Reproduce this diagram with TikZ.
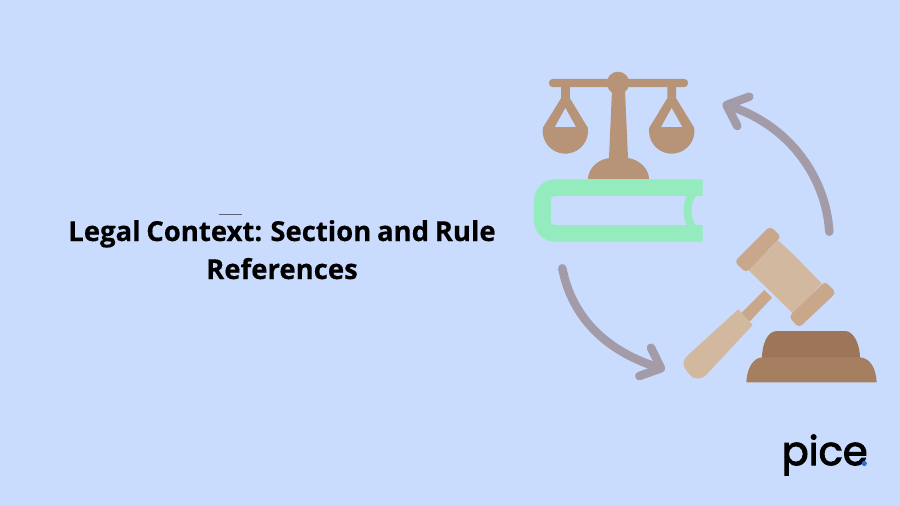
\documentclass[tikz,border=0pt]{standalone}
\usepackage{fontspec}
\setmainfont[WordSpace=0.8,BoldFeatures={FakeBold=0.4}]{Open Sans}
\newfontfamily\logofont[FakeBold=2.6]{Poppins}
\definecolor{bgc}{HTML}{CADCFE}
\definecolor{scalec}{HTML}{B79478}
\definecolor{bookc}{HTML}{94EBBE}
\definecolor{arrowc}{HTML}{A39BA8}
\definecolor{gripc}{HTML}{D3B8A0}
\definecolor{bandc}{HTML}{C8A78B}
\definecolor{basetop}{HTML}{9E7559}
\definecolor{basebot}{HTML}{A67F60}
\definecolor{dotc}{HTML}{2F6BE8}
\tikzset{
  title/.style={font=\fontsize{27.5}{34}\selectfont\bfseries,text=black,inner sep=0pt,anchor=base},
  arrowline/.style={draw=arrowc,line width=8.5pt,line cap=round,line join=round},
  logo/.style={font=\logofont\fontsize{40}{40}\selectfont,text=black,inner sep=0pt,anchor=base west}
}
\begin{document}
\begin{tikzpicture}[x=1pt,y=-1pt]
\useasboundingbox (0,0) rectangle (900,506);
\fill[bgc] (0,0) rectangle (900,506);
% title
\node[title] (line1) at (282,241) {Legal Context: Section and Rule};
\node[title] (line2) at (282,279) {References};
\fill[black!55!bgc] (219,214.3) rectangle (242,214.9);
% arrows
\draw[arrowline] (829.3,231.7) .. controls (826,178) and (790,125) .. (728,105.5);
\draw[arrowline] (749.3,96.7) -- (726.5,105) -- (737.3,126);
\draw[arrowline] (562.3,268.3) .. controls (572,318) and (607,352) .. (660,368);
\draw[arrowline] (651,347.7) -- (661,368.3) -- (639.3,376);
% scale
\fill[scalec] (553,78.8) -- (684,78.8) arc (-90:90:4.2) -- (553,87.2) arc (90:270:4.2) -- cycle;
\fill[scalec] (618,83) circle (11.3);
\fill[scalec] (612,90) -- (625,90) -- (628,158) .. controls (641,160) and (649,170) .. (649,179) -- (588,179) .. controls (588,170) and (596,160) .. (609,158) -- cycle;
\fill[scalec,even odd rule] (561.2,86) -- (569.8,86) -- (569.8,98) -- (587.8,127.8) arc (-8:188:22.7) -- (561.2,98) -- cycle
  (565.4,107.7) -- (554.7,127) -- (576,127) -- cycle;
\fill[scalec,even odd rule] (667.4,86) -- (676,86) -- (676,98) -- (694.2,127.8) arc (-8:188:22.7) -- (667.4,98) -- cycle
  (671.6,107.7) -- (661,127) -- (682.4,127) -- cycle;
% book
\fill[bookc] (702.7,179.3) -- (555,179.3) arc (270:180:21) -- (534,220.7) arc (180:90:21) -- (702.7,241.7) -- (702.7,225) -- (696,225) .. controls (690,218) and (690,203) .. (696,196) -- (702.7,196) -- cycle;
\fill[bgc] (555,196) -- (686.5,196) .. controls (682.5,205) and (682.5,216) .. (686.5,225) -- (555,225) .. controls (552,225) and (551,223) .. (551,221) -- (551,200) .. controls (551,198) and (552,196) .. (555,196) -- cycle;
% gavel
\fill[bandc] (764.3,290) -- (772,297.7) -- (749.5,321.7) -- (741,313.5) -- cycle;
\fill[gripc] (738.3,309.3) -- (752.7,325) -- (708,373) .. controls (703,379) and (695,381) .. (690,375) -- (686,370) .. controls (682,365) and (683,360) .. (687,356) -- cycle;
\fill[gripc] (778.3,240.7) .. controls (795,255) and (808,270) .. (821.7,283.3) -- (792.7,313.3) .. controls (775,296) and (765,286) .. (748.3,270) -- cycle;
\fill[bandc,rounded corners=4pt] (770,226.2) -- (781.2,236.7) -- (746,272.8) -- (734.5,261.7) -- cycle;
\fill[bandc,rounded corners=4pt] (825,281.2) -- (836.2,292.7) -- (799,327.8) -- (788.8,316.7) -- cycle;
\fill[basetop] (762,358) .. controls (762,345) and (767,331) .. (777,331) -- (845,331) .. controls (854,331) and (860,345) .. (860,358) -- cycle;
\fill[basebot] (746.3,382.3) .. controls (747,368) and (753,358) .. (762.3,357.3) -- (860,357.3) .. controls (870,358) and (876,368) .. (876.7,382.3) -- cycle;
% logo
\node[logo] (pice) at (781.5,465) {pice};
\fill[dotc] (864.3,463.5) circle (2.6);
\end{tikzpicture}
\end{document}
